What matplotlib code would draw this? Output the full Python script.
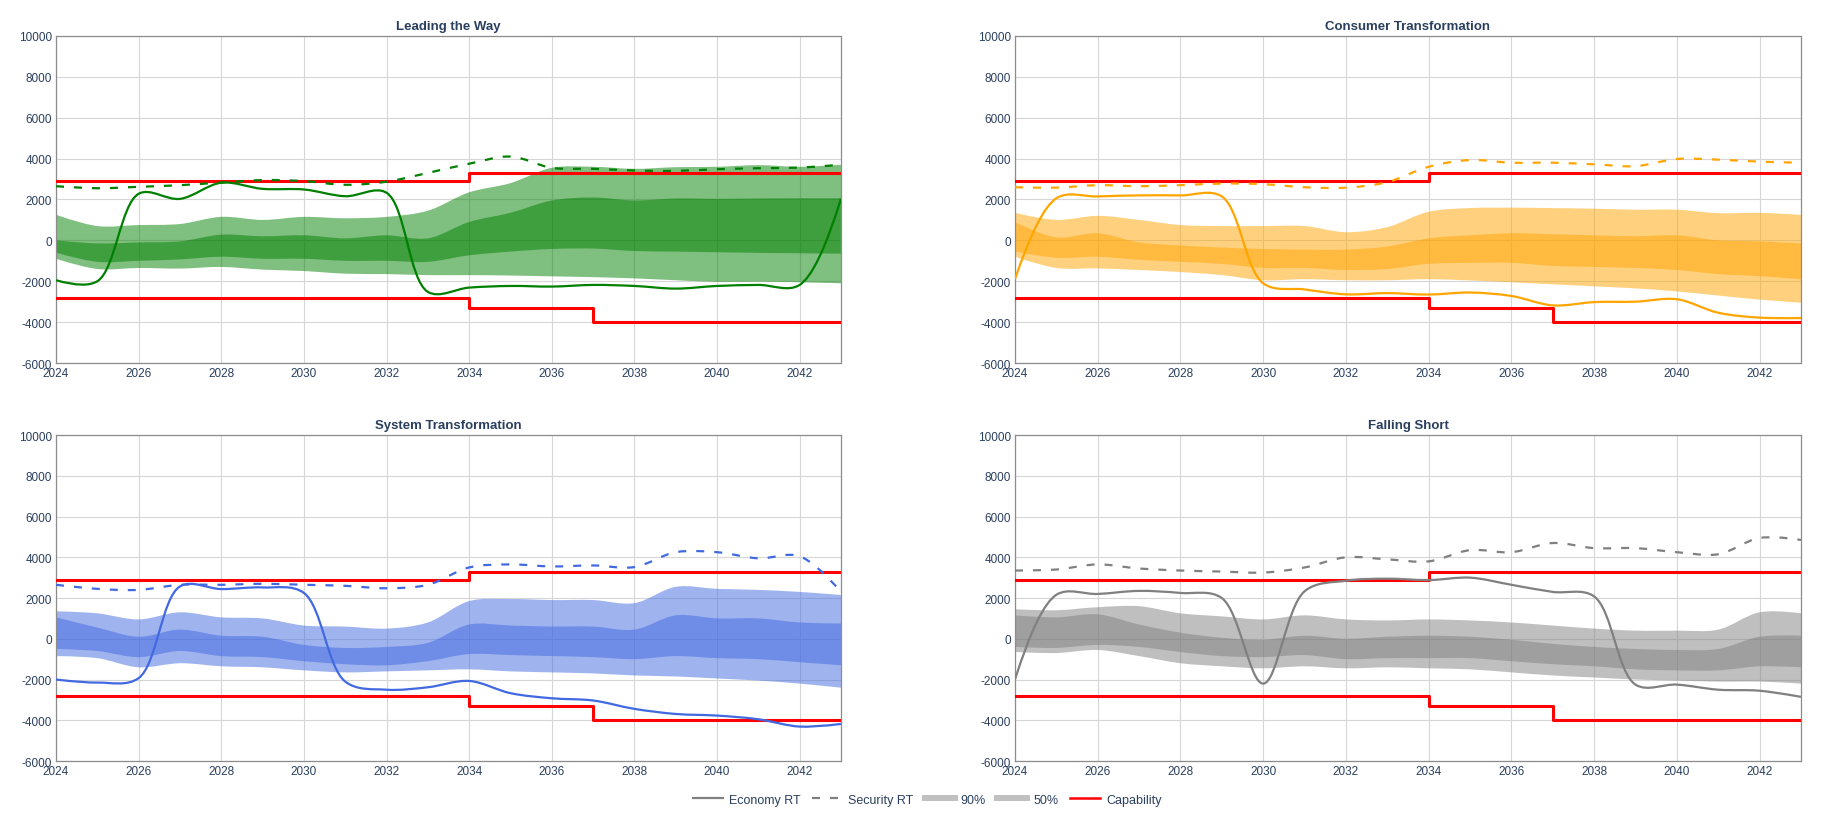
import matplotlib
matplotlib.use("Agg")
import matplotlib.pyplot as plt
import numpy as np
from matplotlib.path import Path
from matplotlib.patches import PathPatch
from matplotlib.lines import Line2D

plt.rcParams['font.family'] = ['Liberation Sans', 'DejaVu Sans']
plt.rcParams['axes.unicode_minus'] = False

years = list(range(2024, 2044))

# capability limits (step lines)
cap_up_x = [2024, 2034, 2043]
cap_up_y = [2900, 3300, 3300]
cap_lo_x = [2024, 2034, 2037, 2043]
cap_lo_y = [-2800, -3300, -4000, -4000]

# Leading the Way
ltw_economy = [-1950, -2000, 2280, 2030, 2820, 2520, 2490, 2160, 2330, -2520,
               -2310, -2230, -2260, -2180, -2230, -2360, -2230, -2180, -2180, 2030]
ltw_security = [2650, 2550, 2620, 2700, 2830, 2950, 2900, 2720, 2870, 3300,
                3750, 4100, 3550, 3500, 3420, 3400, 3480, 3530, 3560, 3700]
ltw_90_hi = [1250, 700, 750, 800, 1150, 1000, 1150, 1080, 1150, 1450,
             2350, 2800, 3550, 3600, 3500, 3580, 3600, 3680, 3600, 3700]
ltw_90_lo = [-900, -1400, -1350, -1380, -1300, -1430, -1500, -1630, -1650, -1700,
             -1700, -1720, -1760, -1800, -1860, -1950, -2030, -2020, -2050, -2100]
ltw_50_hi = [0, -150, -100, -50, 280, 200, 250, 100, 250, 100,
             900, 1350, 1950, 2100, 1950, 2050, 2030, 2050, 2060, 2060]
ltw_50_lo = [-600, -1050, -1000, -930, -800, -900, -900, -1000, -1000, -1050,
             -730, -550, -420, -400, -520, -550, -580, -610, -630, -650]

# Consumer Transformation
ct_economy = [-1900, 2060, 2150, 2200, 2200, 2150, -2100, -2400, -2640, -2580,
              -2650, -2550, -2720, -3180, -3020, -3000, -2880, -3540, -3780, -3800]
ct_security = [2600, 2580, 2700, 2650, 2700, 2780, 2750, 2600, 2580, 2850,
               3600, 3930, 3800, 3800, 3720, 3630, 3980, 3950, 3850, 3800]
ct_90_hi = [1350, 1000, 1200, 1000, 750, 700, 700, 700, 400, 650,
            1400, 1580, 1600, 1580, 1550, 1500, 1500, 1330, 1350, 1250]
ct_90_lo = [-800, -1350, -1370, -1450, -1550, -1700, -1950, -1900, -1950, -1950,
            -1900, -1960, -2050, -2150, -2250, -2350, -2500, -2700, -2900, -3050]
ct_50_hi = [900, 150, 350, -100, -250, -350, -420, -450, -450, -300,
            100, 250, 350, 300, 250, 200, 250, 0, -50, -150]
ct_50_lo = [-550, -850, -800, -950, -1050, -1150, -1350, -1350, -1450, -1400,
            -1150, -1100, -1100, -1250, -1300, -1350, -1450, -1650, -1750, -1900]

# System Transformation
st_economy = [-2000, -2150, -1930, 2570, 2440, 2520, 2250, -2100, -2500, -2380,
              -2070, -2670, -2920, -3030, -3440, -3690, -3770, -3950, -4310, -4180]
st_security = [2650, 2450, 2400, 2650, 2650, 2700, 2650, 2600, 2480, 2650,
               3500, 3650, 3550, 3600, 3520, 4250, 4250, 3950, 4050, 2300]
st_90_hi = [1350, 1250, 950, 1300, 1050, 1000, 650, 600, 500, 800,
            1850, 1950, 1900, 1900, 1750, 2550, 2450, 2400, 2300, 2150]
st_90_lo = [-850, -950, -1400, -1200, -1350, -1400, -1550, -1650, -1600, -1550,
            -1500, -1600, -1650, -1700, -1800, -1850, -1950, -2050, -2200, -2400]
st_50_hi = [1050, 550, 100, 450, 150, 100, -300, -450, -400, -200,
            700, 650, 600, 600, 450, 1150, 1000, 1000, 800, 750]
st_50_lo = [-500, -600, -900, -600, -850, -900, -1100, -1250, -1300, -1100,
            -750, -800, -850, -900, -1000, -850, -950, -1000, -1150, -1300]

# Falling Short
fs_economy = [-2000, 2160, 2200, 2350, 2250, 2000, -2200, 2330, 2850, 2950,
              2880, 3000, 2650, 2300, 2080, -2250, -2250, -2500, -2550, -2850]
fs_security = [3350, 3400, 3650, 3450, 3350, 3300, 3250, 3500, 4000, 3900,
               3800, 4350, 4250, 4700, 4450, 4450, 4250, 4150, 4950, 4850]
fs_90_hi = [1450, 1400, 1550, 1600, 1250, 1100, 950, 1150, 950, 900,
            950, 900, 800, 650, 500, 400, 400, 450, 1300, 1250]
fs_90_lo = [-650, -700, -550, -850, -1200, -1350, -1450, -1350, -1450, -1400,
            -1450, -1500, -1650, -1800, -1900, -2000, -2050, -2100, -2100, -2200]
fs_50_hi = [1150, 1050, 1200, 700, 300, 50, -50, 150, 0, 100,
            150, 100, -50, -250, -400, -500, -550, -500, 100, 150]
fs_50_lo = [-400, -450, -300, -400, -650, -850, -900, -800, -1000, -950,
            -950, -950, -1100, -1250, -1350, -1500, -1550, -1550, -1350, -1400]

panels = [
    ("Leading the Way", '#008000', ltw_economy, ltw_security, ltw_90_hi, ltw_90_lo, ltw_50_hi, ltw_50_lo),
    ("Consumer Transformation", '#FFA500', ct_economy, ct_security, ct_90_hi, ct_90_lo, ct_50_hi, ct_50_lo),
    ("System Transformation", '#4169E1', st_economy, st_security, st_90_hi, st_90_lo, st_50_hi, st_50_lo),
    ("Falling Short", '#808080', fs_economy, fs_security, fs_90_hi, fs_90_lo, fs_50_hi, fs_50_lo),
]

TEXT = '#2a3f5f'
DASH = (0, (3.6, 4.5))


def spline(ax, xs, ys):
    # smooth curve through the points, built as bezier segments in screen space
    p = ax.transData.transform(np.column_stack([xs, ys]))
    n = len(p)
    tang = []
    for i in range(1, n - 1):
        d1 = p[i - 1] - p[i]
        d2 = p[i + 1] - p[i]
        d1a = np.hypot(*d1) ** 0.5
        d2a = np.hypot(*d2) ** 0.5
        num = d2a ** 2 * d1 - d1a ** 2 * d2
        tang.append((p[i] + num / (3 * d2a * (d1a + d2a)),
                     p[i] - num / (3 * d1a * (d1a + d2a))))
    verts = [p[0], tang[0][0], p[1]]
    codes = [Path.MOVETO, Path.CURVE3, Path.CURVE3]
    for i in range(2, n - 1):
        verts += [tang[i - 2][1], tang[i - 1][0], p[i]]
        codes += [Path.CURVE4] * 3
    verts += [tang[n - 3][1], p[n - 1]]
    codes += [Path.CURVE3] * 2
    return list(ax.transData.inverted().transform(np.array(verts))), codes


def band(ax, hi, lo, color):
    v1, c1 = spline(ax, years, hi)
    v2, c2 = spline(ax, years[::-1], lo[::-1])
    c2[0] = Path.LINETO
    verts = v1 + v2 + [v1[0]]
    codes = c1 + c2 + [Path.CLOSEPOLY]
    ax.add_patch(PathPatch(Path(verts, codes), facecolor=color, alpha=0.5,
                           edgecolor='none', zorder=1))


def curve(ax, vals, color, ls='-'):
    v, c = spline(ax, years, vals)
    ax.add_patch(PathPatch(Path(v, c), fill=False, edgecolor=color, lw=1.6,
                           linestyle=ls, zorder=4, capstyle='butt'))


fig = plt.figure(figsize=(18.37, 8.29), dpi=100)
positions = [
    [0.0305, 0.5609, 0.4273, 0.3945],
    [0.5525, 0.5609, 0.4279, 0.3945],
    [0.0305, 0.0808, 0.4273, 0.3932],
    [0.5525, 0.0808, 0.4279, 0.3932],
]

for pos, (title, col, eco, sec, h90, l90, h50, l50) in zip(positions, panels):
    ax = fig.add_axes(pos)
    ax.set_xlim(2024, 2043)
    ax.set_ylim(-6000, 10000)
    ax.set_xticks(range(2024, 2043, 2))
    ax.set_yticks(range(-6000, 10001, 2000))
    ax.grid(True, color='#d6d6d6', lw=0.8)
    ax.set_axisbelow(True)
    for s in ax.spines.values():
        s.set_color('#8c8c8c')
        s.set_linewidth(0.9)
    ax.tick_params(length=0, labelsize=8.5, colors=TEXT, pad=3)
    ax.set_title(title, fontsize=9.5, fontweight='bold', color=TEXT, pad=5)

    band(ax, h90, l90, col)
    band(ax, h50, l50, col)
    ax.step(cap_up_x, cap_up_y, where='post', color='red', lw=2.2, zorder=3)
    ax.step(cap_lo_x, cap_lo_y, where='post', color='red', lw=2.2, zorder=3)
    curve(ax, sec, col, DASH)
    curve(ax, eco, col)

handles = [
    Line2D([], [], color='#808080', lw=1.6),
    Line2D([], [], color='#808080', lw=1.6, linestyle=DASH),
    Line2D([], [], color='#c0c0c0', lw=4.3),
    Line2D([], [], color='#c0c0c0', lw=4.3),
    Line2D([], [], color='red', lw=1.8),
]
labels = ['Economy RT', 'Security RT', '90%', '50%', 'Capability']
fig.legend(handles, labels, loc='center', bbox_to_anchor=(0.5047, 0.034), ncol=5,
           frameon=False, fontsize=9, handlelength=2.4, handletextpad=0.5,
           columnspacing=0.9, labelcolor=TEXT)

fig.savefig('out.png', dpi=100)
